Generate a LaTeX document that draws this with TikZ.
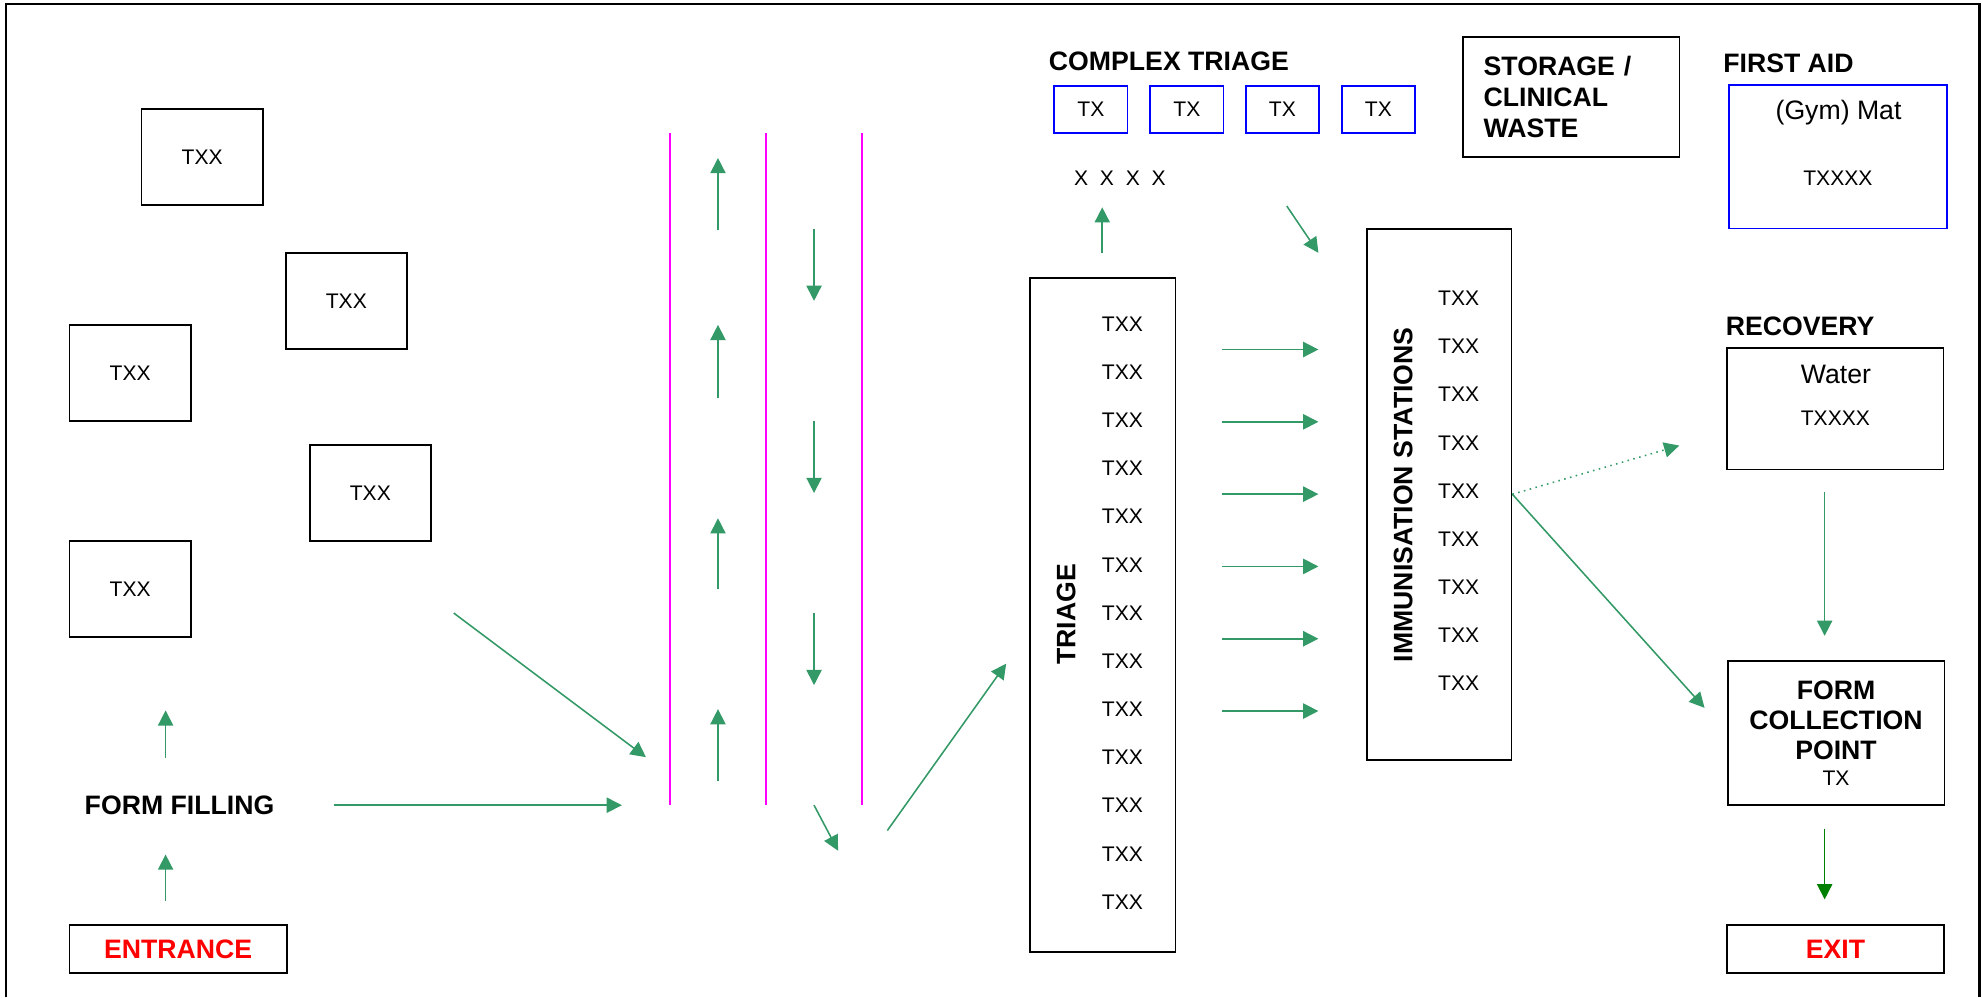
\documentclass[tikz,border=0pt]{standalone}
\usepackage{fontspec}
\setmainfont{Liberation Sans}
\usepackage{tikz}
\usetikzlibrary{arrows.meta,positioning}
\definecolor{flowgreen}{HTML}{339966}
\definecolor{exitgreen}{HTML}{008000}
\definecolor{lanepink}{HTML}{FF00FF}
\definecolor{signred}{HTML}{FF0000}
\definecolor{mapblue}{HTML}{0000FF}

\begin{document}
\begin{tikzpicture}[
  box/.style={draw, line width=0.8pt, minimum width=1.92cm, minimum height=1.52cm, inner sep=0pt, font=\fontsize{9.5}{11}\selectfont},
  txbox/.style={draw=mapblue, line width=0.8pt, minimum width=1.16cm, minimum height=0.75cm, inner sep=0pt, font=\fontsize{9.5}{11}\selectfont},
  room/.style={draw, line width=0.8pt, minimum width=3.43cm, minimum height=#1, inner sep=0pt},
  txt/.style={inner sep=0pt, font=\fontsize{9.5}{11}\selectfont},
  big/.style={inner sep=0pt, font=\fontsize{12}{14}\selectfont},
  head/.style={inner sep=0pt, font=\bfseries\fontsize{12}{13.5}\selectfont},
  sign/.style={draw, line width=0.8pt, minimum width=#1, minimum height=0.76cm, inner sep=0pt, text=signred, font=\bfseries\fontsize{12}{14}\selectfont},
  arr/.style={-{Triangle[length=0.24cm,width=0.24cm]}, line width=0.7pt, flowgreen},
  lane/.style={lanepink, line width=0.8pt}
]

\useasboundingbox (0,0) rectangle (31.36,-15.78);
\draw[line width=1pt] (0.09,-15.78) -- (0.09,-0.06) -- (31.32,-0.06) -- (31.32,-15.78);

% waiting area
\node[box] (wait1) at (3.2,-2.48) {TXX};
\node[box] (wait2) at (5.48,-4.76) {TXX};
\node[box] (wait3) at (2.06,-5.9) {TXX};
\node[box] (wait4) at (5.86,-7.8) {TXX};
\node[box] (wait5) at (2.06,-9.32) {TXX};

\node[head] (formfill) at (2.84,-12.74) {FORM FILLING};
\node[sign=3.44cm] (entrance) at (2.82,-15.02) {ENTRANCE};

% corridor
\draw[lane] (10.6,-2.1) -- (10.6,-12.74);
\draw[lane] (12.12,-2.1) -- (12.12,-12.74);
\draw[lane] (13.64,-2.1) -- (13.64,-12.74);

% triage
\node[room=10.66cm, minimum width=2.3cm] (triage) at (17.45,-9.73) {};
\node[head, rotate=90] (triagelbl) at (16.87,-9.72) {TRIAGE};
\foreach \k in {0,...,12}
  \node[txt] (tri\k) at (17.76,{-5.126-0.762*\k}) {TXX};

\node[head, anchor=west] (complexlbl) at (16.59,-0.976) {COMPLEX TRIAGE};
\foreach \x [count=\i] in {17.26,18.78,20.29,21.81}
  \node[txbox] (ct\i) at (\x,-1.73) {TX};
\node[txt] (queue) at (17.72,-2.82) {X~~X~~X~~X};

% immunisation
\node[room=8.4cm, minimum width=2.29cm] (immun) at (22.77,-7.82) {};
\node[head, rotate=90] (immunlbl) at (22.2,-7.83) {IMMUNISATION STATIONS};
\foreach \k in {0,...,8}
  \node[txt] (imm\k) at (23.08,{-4.72-0.762*\k}) {TXX};

\node[room=1.91cm, text width=2.77cm, inner xsep=0.33cm, align=left, font=\bfseries\fontsize{12}{13.9}\selectfont] (storage) at (24.86,-1.535) {STORAGE /\\CLINICAL\\WASTE};

% right column
\node[head, anchor=west] (firstaidlbl) at (27.26,-1.0) {FIRST AID};
\node[room=2.27cm, draw=mapblue, minimum width=3.45cm] (firstaid) at (29.08,-2.48) {};
\node[big] (gym) at (29.09,-1.78) {(Gym) Mat};
\node[txt] (firstaidtx) at (29.08,-2.82) {TXXXX};

\node[head, anchor=west] (recoverylbl) at (27.3,-5.16) {RECOVERY};
\node[room=1.92cm, minimum width=3.42cm] (recovery) at (29.04,-6.47) {};
\node[big] (water) at (29.05,-5.93) {Water};
\node[txt] (recoverytx) at (29.04,-6.62) {TXXXX};

\node[room=2.28cm, align=center, font=\bfseries\fontsize{12}{13.3}\selectfont] (formpt) at (29.05,-11.6) {FORM\\COLLECTION\\POINT\\[-1.6pt]{\normalfont\fontsize{9.5}{11}\selectfont TX}};
\node[sign=3.43cm] (exit) at (29.04,-15.02) {EXIT};

% flow
\coordinate (entout) at (2.62,-14.26);
\coordinate (ffin) at (2.62,-13.52);
\coordinate (ffout) at (2.62,-12.0);
\coordinate (waitin) at (2.62,-11.24);
\coordinate (ffright) at (5.28,-12.74);
\coordinate (lanein) at (9.84,-12.74);
\coordinate (waitout) at (7.18,-9.7);
\coordinate (lanein2) at (10.22,-11.98);
\coordinate (laneout) at (12.88,-12.74);
\coordinate (laneexit) at (13.26,-13.46);
\coordinate (triagein) at (14.04,-13.14);
\coordinate (triagetip) at (15.92,-10.5);
\coordinate (triageup) at (17.44,-4.0);
\coordinate (queuein) at (17.44,-3.28);
\coordinate (complexout) at (20.36,-3.26);
\coordinate (immunin) at (20.86,-4.0);
\coordinate (recin) at (26.57,-7.05);
\coordinate (formin) at (26.97,-11.2);
\coordinate (recout) at (28.87,-7.79);
\coordinate (formtop) at (28.87,-10.06);
\coordinate (formout) at (28.87,-13.11);
\coordinate (exitin) at (28.87,-14.23);

\draw[arr] (entout) -- (ffin);
\draw[arr] (ffout) -- (waitin);
\draw[arr] (ffright) -- (lanein);
\draw[arr] (waitout) -- (lanein2);

\foreach \tail/\tip [count=\i] in {-3.64/-2.5, -6.3/-5.14, -9.32/-8.2, -12.36/-11.22} {
  \coordinate (up\i) at (11.36,\tail);
  \coordinate (uptip\i) at (11.36,\tip);
  \draw[arr] (up\i) -- (uptip\i);
}
\foreach \tail/\tip [count=\i] in {-3.62/-4.76, -6.66/-7.8, -9.7/-10.84} {
  \coordinate (down\i) at (12.88,\tail);
  \coordinate (downtip\i) at (12.88,\tip);
  \draw[arr] (down\i) -- (downtip\i);
}
\draw[arr] (laneout) -- (laneexit);
\draw[arr] (triagein) -- (triagetip);
\draw[arr] (triageup) -- (queuein);
\draw[arr] (complexout) -- (immunin);

\foreach \k in {0,...,5} {
  \coordinate (trout\k) at (19.34,{-5.53-1.144*\k});
  \coordinate (imin\k) at (20.86,{-5.53-1.144*\k});
  \draw[arr] (trout\k) -- (imin\k);
}

\draw[arr, dotted] (immun.east) -- (recin);
\draw[arr] (immun.east) -- (formin);
\draw[arr] (recout) -- (formtop);
\draw[arr, exitgreen] (formout) -- (exitin);

\end{tikzpicture}
\end{document}
